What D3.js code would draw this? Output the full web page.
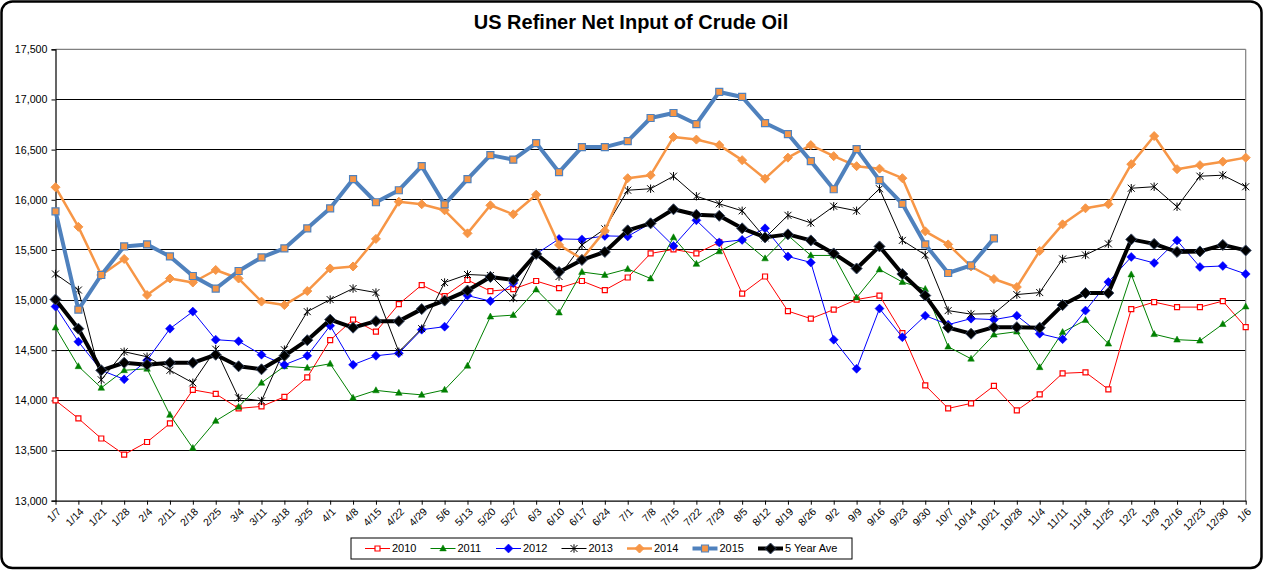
<!DOCTYPE html>
<html>
<head>
<meta charset="utf-8">
<script src="https://cdn.jsdelivr.net/npm/d3@7"></script>
<style>
  html, body { margin: 0; padding: 0; background: #fff; }
  svg { display: block; font-family: "Liberation Sans", Arial, sans-serif; }
</style>
</head>
<body>
<svg id="chart" width="1265" height="571"></svg>
<script>
const categories = ["1/7","1/14","1/21","1/28","2/4","2/11","2/18","2/25","3/4","3/11","3/18","3/25",
  "4/1","4/8","4/15","4/22","4/29","5/6","5/13","5/20","5/27","6/3","6/10","6/17","6/24",
  "7/1","7/8","7/15","7/22","7/29","8/5","8/12","8/19","8/26","9/2","9/9","9/16","9/23","9/30",
  "10/7","10/14","10/21","10/28","11/4","11/11","11/18","11/25","12/2","12/9","12/16","12/23","12/30","1/6"];

const y2010 = [14000,13820,13620,13460,13585,13770,14105,14065,13920,13940,14035,14230,
  14600,14805,14685,14960,15150,15040,15200,15090,15110,15190,15120,15190,15100,
  15225,15465,15505,15465,15575,15065,15235,14890,14815,14905,15005,15045,14670,14150,
  13920,13970,14145,13900,14060,14270,14280,14110,14910,14980,14930,14930,14990,14730];

const y2011 = [14725,14340,14125,14300,14315,13855,13525,13795,13935,14175,14340,14325,
  14365,14025,14100,14075,14055,14105,14345,14835,14850,15105,14875,15280,15250,
  15310,15215,15625,15360,15485,15605,15415,15645,15445,15445,15025,15305,15180,15110,
  14535,14415,14655,14685,14330,14680,14800,14565,15255,14660,14605,14595,14760,14935];

const y2012 = [14935,14585,14300,14210,14400,14715,14885,14605,14590,14455,14355,14445,
  14745,14355,14445,14470,14705,14735,15045,14990,15170,15460,15610,15605,15640,
  15635,15765,15540,15795,15575,15600,15715,15435,15375,14605,14315,14915,14630,14845,
  14755,14815,14805,14845,14665,14610,14895,15180,15430,15370,15595,15330,15340,15260];

const y2013 = [15260,15100,14205,14485,14435,14300,14175,14510,14025,13995,14505,14885,
  15005,15115,15075,14485,14715,15175,15255,15245,15020,15460,15235,15550,15710,
  16095,16110,16235,16035,15960,15890,15620,15845,15770,15935,15890,16110,15595,15450,
  14895,14860,14865,15055,15075,15410,15450,15560,16115,16130,15930,16235,16245,16130];

const y2014 = [16125,15730,15250,15410,15050,15215,15175,15300,15215,14985,14950,15090,
  15315,15335,15610,15980,15955,15895,15665,15945,15855,16050,15550,15410,15690,
  16215,16245,16625,16600,16545,16395,16210,16420,16545,16435,16335,16310,16215,15685,
  15555,15335,15210,15130,15490,15755,15915,15955,16355,16635,16305,16345,16380,16420];

const y2015 = [15885,14905,15250,15535,15555,15435,15240,15115,15290,15425,15515,15715,
  15915,16205,15975,16095,16335,15955,16205,16445,16400,16565,16275,16525,16525,
  16585,16815,16865,16755,17075,17025,16765,16655,16385,16105,16505,16195,15960,15555,
  15270,15345,15615];

const yAvg = [15005,14715,14300,14375,14355,14375,14375,14455,14340,14310,14445,14600,
  14805,14725,14790,14790,14910,14995,15095,15230,15200,15460,15280,15400,15480,
  15695,15765,15905,15850,15840,15715,15625,15655,15595,15465,15315,15535,15260,15045,
  14725,14665,14730,14730,14725,14950,15070,15070,15605,15560,15480,15485,15550,15495];

const seriesNames = ["2010","2011","2012","2013","2014","2015","5 Year Ave"];
const yTicks = [13000,13500,14000,14500,15000,15500,16000,16500,17000,17500];
const title = "US Refiner Net Input of Crude Oil";

// ---------- drawing ----------
const svg = d3.select("#chart");
const W = 1265, H = 571;
const plot = {left: 55.5, right: 1245.7, top: 49.3, bottom: 500.7};

svg.append("rect").attr("x",0).attr("y",0).attr("width",W).attr("height",H).attr("fill","#fff");
svg.append("rect").attr("x",1.5).attr("y",1.5).attr("width",1260).attr("height",566.5)
  .attr("rx",11).attr("ry",11).attr("fill","#fff").attr("stroke","#000").attr("stroke-width",2.5);

svg.append("text").attr("x",631).attr("y",29).attr("text-anchor","middle")
  .attr("font-size",20).attr("font-weight","bold").attr("fill","#000").text(title);

const x = d3.scalePoint().domain(categories).range([plot.left, plot.right]).padding(0);
const y = d3.scaleLinear().domain([13000,17500]).range([plot.bottom, plot.top]);

// gridlines
svg.append("g").selectAll("line").data(yTicks.filter(v => v > 13000 && v < 17500)).join("line")
  .attr("x1",plot.left).attr("x2",plot.right)
  .attr("y1",d => y(d)).attr("y2",d => y(d))
  .attr("stroke","#000").attr("stroke-width",1).attr("shape-rendering","crispEdges");

// plot border top/right grey
svg.append("line").attr("x1",plot.left).attr("x2",plot.right).attr("y1",y(17500)).attr("y2",y(17500))
  .attr("stroke","#808080").attr("stroke-width",1.2);
svg.append("line").attr("x1",plot.right).attr("x2",plot.right).attr("y1",plot.top).attr("y2",plot.bottom)
  .attr("stroke","#808080").attr("stroke-width",1.2);

// y axis
const yAxis = d3.axisLeft(y).tickValues(yTicks).tickSize(4).tickFormat(d3.format(","));
const gy = svg.append("g").attr("transform",`translate(${plot.left},0)`).call(yAxis);
gy.select(".domain").attr("stroke","#000").attr("stroke-width",1.2);
gy.selectAll(".tick line").attr("stroke","#000");
gy.selectAll(".tick text").attr("font-size",10.7).attr("font-family","Liberation Sans, Arial, sans-serif")
  .attr("fill","#000").attr("x",-8);

// x axis
const xAxis = d3.axisBottom(x).tickSize(4).tickSizeOuter(0);
const gx = svg.append("g").attr("transform",`translate(0,${plot.bottom})`).call(xAxis);
gx.select(".domain").attr("stroke","#000").attr("stroke-width",1.2);
gx.selectAll(".tick line").attr("stroke","#000");
gx.selectAll(".tick text").attr("font-size",10.5).attr("font-family","Liberation Sans, Arial, sans-serif")
  .attr("fill","#000").attr("text-anchor","end")
  .attr("y",0).attr("dy","0.35em")
  .attr("transform","translate(3,9) rotate(-45)");

// marker shapes
const diamondPath = r => `M0,${-r}L${r},0L0,${r}L${-r},0Z`;
const squarePath = s => `M${-s/2},${-s/2}h${s}v${s}h${-s}Z`;
const triPath = s => `M0,${-s*0.6}L${s*0.55},${s*0.4}L${-s*0.55},${s*0.4}Z`;
const starPath = r => `M${-r},${-r}L${r},${r}M${-r},${r}L${r},${-r}M0,${-r*1.2}L0,${r*1.2}`;

const styles = [
  {name:"2010", data:y2010, color:"#FF0000", width:1, marker:squarePath(5), mfill:"#fff", mstroke:"#FF0000", mw:1.2},
  {name:"2011", data:y2011, color:"#008000", width:1, marker:triPath(6), mfill:"#008000", mstroke:"#008000", mw:0.5},
  {name:"2012", data:y2012, color:"#0000FF", width:1, marker:diamondPath(4.5), mfill:"#0000FF", mstroke:"#0000FF", mw:0.5},
  {name:"2013", data:y2013, color:"#000000", width:1, marker:starPath(3.5), mfill:"none", mstroke:"#000", mw:1},
  {name:"2014", data:y2014, color:"#F79646", width:2.5, marker:diamondPath(4.5), mfill:"#F79646", mstroke:"#F79646", mw:1},
  {name:"2015", data:y2015, color:"#4F81BD", width:4, marker:squarePath(7), mfill:"#F79646", mstroke:"#4F81BD", mw:1.2},
  {name:"5 Year Ave", data:yAvg, color:"#000000", width:4, marker:diamondPath(5.5), mfill:"#000", mstroke:"#3A4A66", mw:1}
];

const line = d3.line().x((d,i) => x(categories[i])).y(d => y(d));

styles.forEach(s => {
  const g = svg.append("g");
  g.append("path").datum(s.data).attr("d", line).attr("fill","none")
    .attr("stroke", s.color).attr("stroke-width", s.width).attr("stroke-linejoin","round");
  g.selectAll("path.m").data(s.data).join("path").attr("class","m")
    .attr("transform",(d,i) => `translate(${x(categories[i])},${y(d)})`)
    .attr("d", s.marker).attr("fill", s.mfill).attr("stroke", s.mstroke).attr("stroke-width", s.mw);
});

// legend
const leg = svg.append("g");
leg.append("rect").attr("x",351).attr("y",538).attr("width",501).attr("height",21)
  .attr("fill","#fff").attr("stroke","#000").attr("stroke-width",1);
const legX = d3.scalePoint().domain(seriesNames).range([365, 758]);
styles.forEach(s => {
  const x0 = legX(s.name), yc = 548.5;
  const g = leg.append("g");
  g.append("line").attr("x1",x0).attr("x2",x0+25).attr("y1",yc).attr("y2",yc)
    .attr("stroke",s.color).attr("stroke-width",s.width);
  g.append("path").attr("transform",`translate(${x0+12.5},${yc})`).attr("d",s.marker)
    .attr("fill",s.mfill).attr("stroke",s.mstroke).attr("stroke-width",s.mw);
  g.append("text").attr("x",x0+27).attr("y",yc).attr("dy","0.36em")
    .attr("font-size",11).attr("fill","#000").text(s.name);
});
</script>
</body>
</html>
